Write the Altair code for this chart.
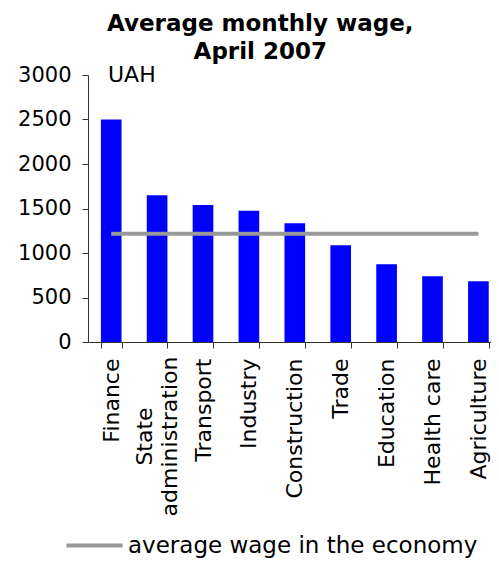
import altair as alt
import pandas as pd

categories = ["Finance", "State administration", "Transport", "Industry", "Construction",
              "Trade", "Education", "Health care", "Agriculture"]
wages = [2500, 1650, 1538, 1474, 1335, 1088, 874, 739, 683]
avg_wage = 1215
avg_label = "average wage in the economy"
unit_label = "UAH"

df = pd.DataFrame({"category": categories, "wage": wages})
df["avg"] = avg_wage
df["series"] = avg_label

FONT = "DejaVu Sans"
two_line = "datum.value == 'State administration'"

label_expr = f"{two_line} ? ['State', 'administration'] : datum.value"

x_enc = alt.X("category:N", sort=categories,
              scale=alt.Scale(paddingInner=0.55, paddingOuter=0.165, align=0.85),
              axis=alt.Axis(title=None, labelAngle=-90,
                            labelAlign={"condition": {"test": two_line, "value": "center"}, "value": "right"},
                            labelPadding={"condition": {"test": two_line, "value": 88}, "value": 10},
                            labelOffset={"condition": {"test": two_line, "value": -12.5}, "value": 0},
                            labelBaseline="middle",
                            labelFontSize=22, labelFont=FONT, labelColor="black",
                            tickSize=6, tickBand="extent",
                            domainColor="#333333", tickColor="#333333",
                            labelExpr=label_expr, labelLineHeight=25))

bars = alt.Chart(df).mark_bar(color="#0000FF").encode(
    x=x_enc,
    y=alt.Y("wage:Q", scale=alt.Scale(domain=[0, 3000], nice=False),
            axis=alt.Axis(title=None, values=[0, 500, 1000, 1500, 2000, 2500, 3000],
                          format="d", grid=False, labelFontSize=21, labelFont=FONT,
                          labelColor="black", labelPadding=11, tickSize=6,
                          domainColor="#333333", tickColor="#333333")),
)

line = alt.Chart(df).mark_line(strokeWidth=4).encode(
    x=alt.X("category:N", sort=categories),
    y=alt.Y("avg:Q"),
    color=alt.Color("series:N", scale=alt.Scale(range=["#999999"]),
                    legend=alt.Legend(title=None, orient="none", legendX=-5, legendY=459,
                                      symbolType="M-5.1,0H5.1", symbolSize=121, symbolStrokeWidth=4,
                                      symbolStrokeColor="#999999", symbolFillColor="transparent",
                                      labelOffset=22, labelFontSize=23, labelFont=FONT,
                                      labelColor="black", labelLimit=500)),
)

uah = alt.Chart(pd.DataFrame({"t": [unit_label]})).mark_text(
    align="left", baseline="middle", fontSize=22, font=FONT, color="black"
).encode(x=alt.value(20), y=alt.value(0), text="t:N")

chart = alt.layer(bars, line, uah).properties(
    width=403, height=267,
    title=alt.Title(["Average monthly wage,", "April 2007"], fontSize=23, font=FONT,
                    fontWeight="bold", color="black", lineHeight=28, anchor="middle",
                    frame="bounds", offset=0, dx=6),
    padding={"left": 9, "top": 5, "right": 0, "bottom": 0},
).configure_view(stroke=None)

chart.save("out.html", embed_options={"renderer": "svg", "actions": False})
